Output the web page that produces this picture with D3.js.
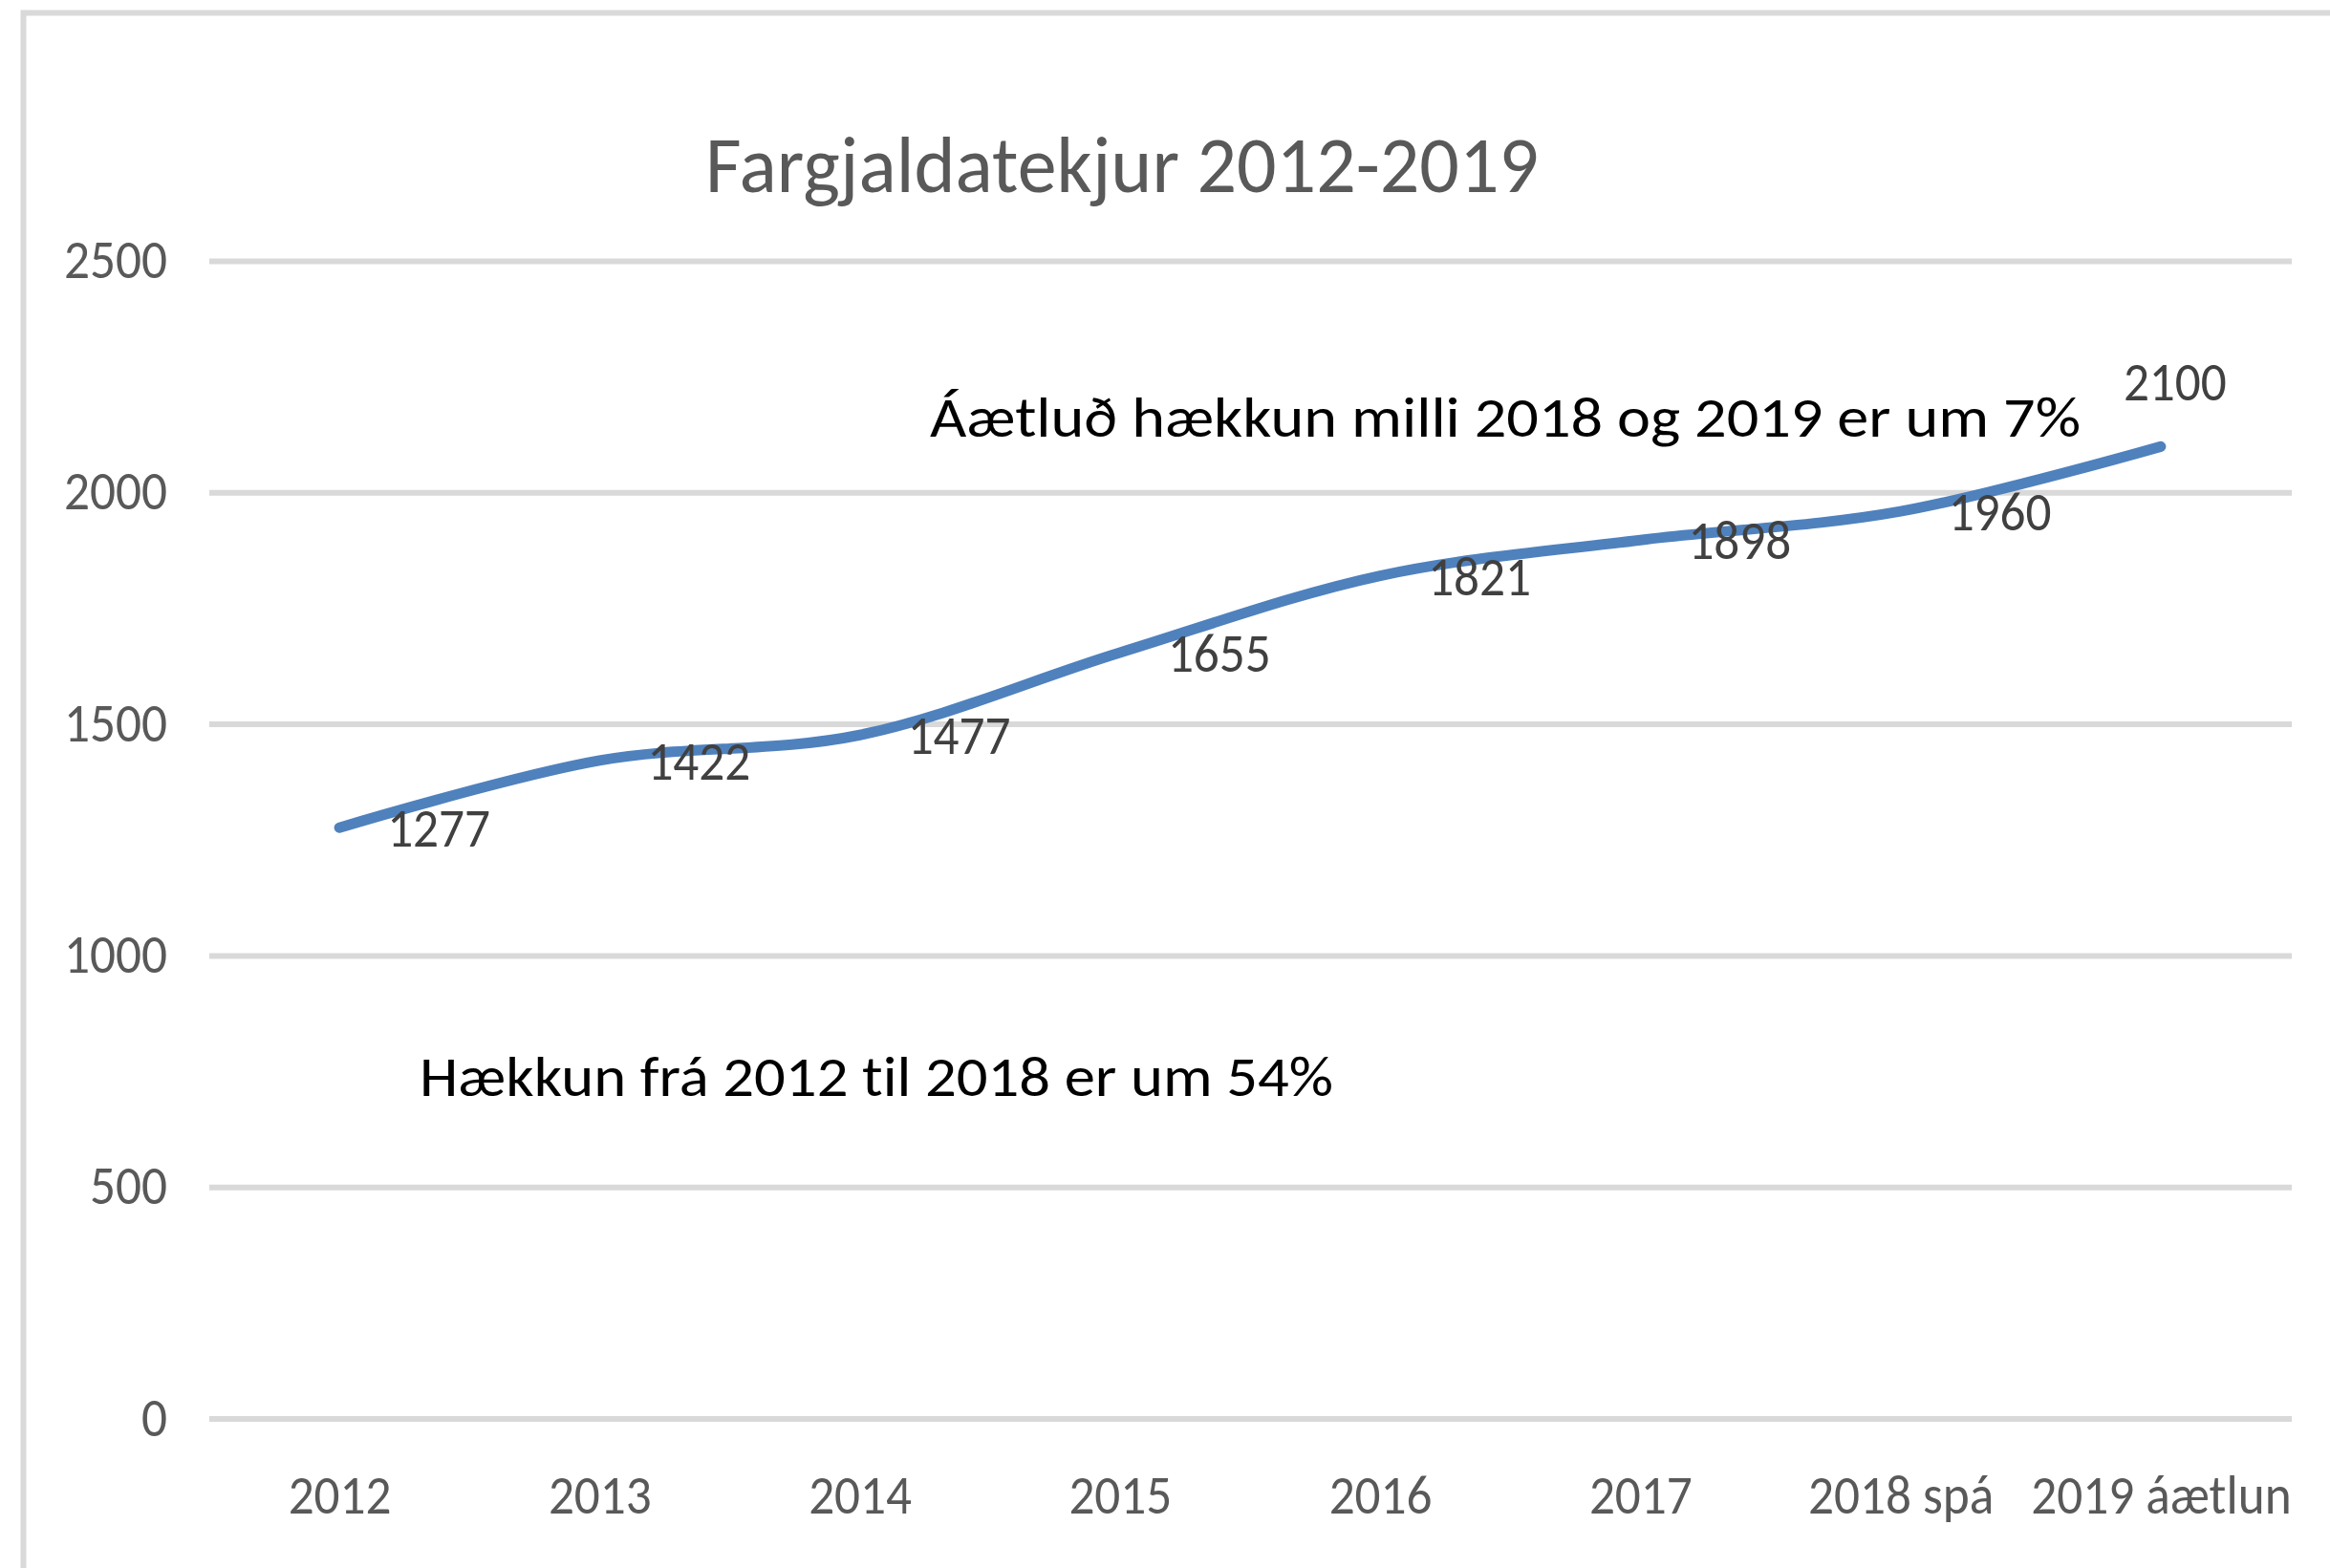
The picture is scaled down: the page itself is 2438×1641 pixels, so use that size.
<!DOCTYPE html>
<html>
<head>
<meta charset="utf-8">
<script src="https://cdn.jsdelivr.net/npm/d3@7"></script>
<style>
  html, body { margin: 0; padding: 0; background: #ffffff; }
  svg { display: block; }
  text { font-family: Carlito, Lato, "Open Sans", sans-serif; font-variant-ligatures: none; font-feature-settings: "liga" 0, "clig" 0; }
</style>
</head>
<body>
<script>
// ---- data ----
const categories = ["2012", "2013", "2014", "2015", "2016", "2017", "2018 spá", "2019 áætlun"];
const values = [1277, 1422, 1477, 1655, 1821, 1898, 1960, 2100];
const yTicks = [0, 500, 1000, 1500, 2000, 2500];
const titleText = "Fargjaldatekjur 2012-2019";
const note1 = "Áætluð hækkun milli 2018 og 2019 er um 7%";
const note2 = "Hækkun frá 2012 til 2018 er um 54%";

// ---- layout ----
const W = 2438, H = 1641;
const plot = { left: 219, right: 2397, top: 273.5, bottom: 1485 };
const numFont = 57;

const svg = d3.select("body").append("svg")
  .attr("width", W).attr("height", H)
  .attr("viewBox", `0 0 ${W} ${H}`);

svg.append("rect").attr("width", W).attr("height", H).attr("fill", "#ffffff");

// chart frame (top and left edges visible)
svg.append("path")
  .attr("d", `M24.5,${H + 10} L24.5,13.5 L${W + 10},13.5`)
  .attr("fill", "none").attr("stroke", "#d9d9d9").attr("stroke-width", 6);

const x = d3.scalePoint().domain(categories).range([plot.left, plot.right]).padding(0.5);
const y = d3.scaleLinear().domain([0, 2500]).range([plot.bottom, plot.top]);

// measure natural width of a 4-digit number to derive condensation factor
const probe = svg.append("text").attr("font-size", numFont).text("2500");
const natural = probe.node().getComputedTextLength();
probe.remove();
const k = 108 / natural;
function condense(sel) {
  sel.each(function () {
    const t = d3.select(this);
    const w = this.getComputedTextLength();
    t.attr("textLength", w * k).attr("lengthAdjust", "spacingAndGlyphs");
  });
}

// gridlines
svg.append("g").selectAll("line").data(yTicks).join("line")
  .attr("x1", plot.left).attr("x2", plot.right + 1)
  .attr("y1", d => y(d)).attr("y2", d => y(d))
  .attr("stroke", "#d9d9d9").attr("stroke-width", 6);

// y axis
const gy = svg.append("g").attr("transform", `translate(${plot.left},0)`)
  .call(d3.axisLeft(y).tickValues(yTicks).tickSize(0).tickPadding(44).tickFormat(d3.format("d")));
gy.select(".domain").remove();
gy.selectAll("text").attr("font-size", numFont).attr("fill", "#595959")
  .attr("font-family", null).attr("dy", "0.3em").call(condense);

// x axis
const gx = svg.append("g").attr("transform", `translate(0,${plot.bottom})`)
  .call(d3.axisBottom(x).tickSize(0).tickPadding(59));
gx.select(".domain").remove();
gx.selectAll("text").attr("font-size", numFont).attr("fill", "#595959")
  .attr("font-family", null).call(condense);

// line
const pts = categories.map((c, i) => ({ c, v: values[i] }));
const line = d3.line().x(d => x(d.c)).y(d => y(d.v)).curve(d3.curveCatmullRom.alpha(0.5));
svg.append("path").datum(pts).attr("d", line)
  .attr("fill", "none").attr("stroke", "#4f81bd").attr("stroke-width", 11)
  .attr("stroke-linecap", "round").attr("stroke-linejoin", "round");

// data labels
const last = pts.length - 1;
svg.append("g").selectAll("text").data(pts).join("text")
  .attr("font-size", numFont).attr("fill", "#404040")
  .attr("text-anchor", (d, i) => i === last ? "middle" : "start")
  .attr("x", (d, i) => i === last ? x(d.c) + 15 : x(d.c) + 50)
  .attr("y", (d, i) => i === last ? y(d.v) - 48 : y(d.v) + 20)
  .text(d => d.v)
  .call(condense);

// title
svg.append("text").attr("x", 738).attr("y", 201)
  .attr("font-size", 84).attr("fill", "#595959")
  .attr("textLength", 872).attr("lengthAdjust", "spacingAndGlyphs")
  .text(titleText);

// annotations
svg.append("text").attr("x", 973).attr("y", 457)
  .attr("font-size", 59).attr("fill", "#000000")
  .attr("textLength", 1204).attr("lengthAdjust", "spacingAndGlyphs")
  .text(note1);

svg.append("text").attr("x", 439).attr("y", 1147)
  .attr("font-size", 59).attr("fill", "#000000")
  .attr("textLength", 956).attr("lengthAdjust", "spacingAndGlyphs")
  .text(note2);
</script>
</body>
</html>
